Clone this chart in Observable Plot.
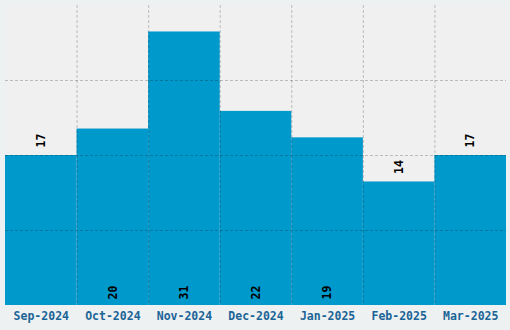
<!DOCTYPE html>
<html>
<head>
<meta charset="utf-8">
<script src="https://cdn.jsdelivr.net/npm/d3@7"></script>
<script src="https://cdn.jsdelivr.net/npm/@observablehq/plot@0.6"></script>
<style>
  html, body { margin: 0; padding: 0; background: #edf1f2; }
  svg { display: block; }
</style>
</head>
<body>
<div id="chart"></div>
<script>
const months = ["Sep-2024", "Oct-2024", "Nov-2024", "Dec-2024", "Jan-2025", "Feb-2025", "Mar-2025"];
const counts = [17, 20, 31, 22, 19, 14, 17];
const yMax = 34;
const gridValues = [8.5, 17, 25.5];

const data = months.map((m, i) => ({month: m, i, value: counts[i]}));
const above = data.filter(d => d.value < 18);
const inside = data.filter(d => d.value >= 18);

const font = "DejaVu Sans Mono, monospace";

const chart = Plot.plot({
  width: 510,
  height: 330,
  marginLeft: 5,
  marginRight: 4,
  marginTop: 5,
  marginBottom: 25,
  style: {background: "#edf1f2", fontFamily: font},
  x: {type: "linear", domain: [0, months.length], axis: null},
  y: {domain: [0, yMax], axis: null},
  marks: [
    Plot.frame({fill: "#f0f0f0", stroke: null}),
    Plot.rectY(data, {x1: "i", x2: d => d.i + 1, y: "value", fill: "#0099cc"}),
    Plot.gridX(d3.range(1, months.length), {stroke: "#000", strokeOpacity: 0.22, strokeDasharray: "3,2"}),
    Plot.gridY(gridValues, {stroke: "#000", strokeOpacity: 0.22, strokeDasharray: "3,2"}),
    Plot.text(above, {x: d => d.i + 0.5, y: "value", text: d => String(d.value), rotate: -90, dy: -15, fill: "#000", fontSize: 11.5, fontWeight: "bold", fontFamily: font}),
    Plot.text(inside, {x: d => d.i + 0.5, y: 0, text: d => String(d.value), rotate: -90, dy: -13, fill: "#000", fontSize: 11.5, fontWeight: "bold", fontFamily: font}),
    Plot.axisX(d3.range(months.length).map(i => i + 0.5), {
      tickFormat: v => months[Math.floor(v)],
      label: null,
      tickSize: 0, tickPadding: 6, color: "#1b6496",
      fontSize: 11.5, fontWeight: "bold", fontFamily: font
    })
  ]
});
document.getElementById("chart").appendChild(chart);
</script>
</body>
</html>
